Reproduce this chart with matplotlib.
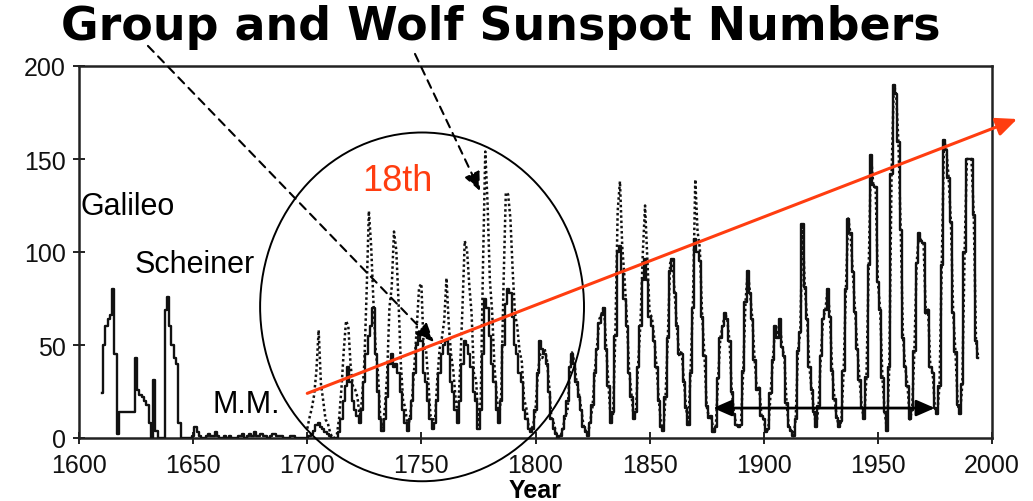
import matplotlib
matplotlib.use("Agg")
import matplotlib.pyplot as plt
from matplotlib.patches import Ellipse
import numpy as np

# ---------------- data ----------------
group_start = 1610
group_early = [
    # 1610-1659
    24, 50, 60, 64, 66, 80, 45, 2, 14, 14,
    14, 14, 14, 14, 14, 43, 26, 23, 22, 20,
    18, 8, 0, 31, 4, 0, 0, 0, 69, 76,
    60, 50, 43, 40, 8, 0, 0, 0, 0, 0,
    1, 6, 3, 1, 0, 0, 1, 2, 1, 1,
    # 1660-1699
    3, 1, 0, 0, 1, 0, 1, 0, 0, 0,
    1, 1, 2, 0, 1, 2, 1, 3, 1, 1,
    2, 1, 1, 0, 1, 2, 2, 1, 1, 1,
    0, 0, 0, 1, 1, 0, 0, 0, 0, 0,
    # 1700-1749
    0, 1, 2, 4, 7, 8, 6, 5, 3, 2,
    1, 0, 0, 0, 3, 10, 20, 28, 38, 30,
    20, 15, 12, 8, 15, 30, 45, 55, 60, 70,
    45, 25, 10, 4, 10, 22, 40, 45, 38, 40,
    35, 25, 15, 8, 4, 10, 20, 35, 50, 55,
    # 1750-1799
    52, 35, 30, 20, 10, 5, 8, 20, 35, 45,
    50, 52, 45, 30, 25, 15, 8, 20, 40, 52,
    50, 45, 38, 25, 20, 5, 15, 45, 75, 70,
    55, 40, 30, 15, 8, 20, 50, 72, 80, 78,
    65, 50, 45, 35, 30, 15, 10, 5, 3, 5,
    # 1800-1849
    15, 35, 52, 48, 45, 40, 25, 10, 5, 2,
    0, 1, 5, 12, 20, 38, 45, 40, 30, 22,
    15, 6, 3, 1, 8, 18, 35, 48, 62, 66,
    70, 48, 28, 8, 14, 55, 100, 103, 90, 75,
    60, 35, 22, 10, 14, 38, 60, 85, 96, 85,
    # 1850-1874
    65, 60, 52, 38, 20, 6, 4, 22, 54, 90,
    96, 78, 60, 45, 45, 30, 16, 7, 35, 70,
    107, 100, 95, 65, 44,
]

wolf_start = 1700
wolf = [
    # 1700-1749
    5, 11, 16, 23, 36, 58, 29, 20, 10, 8,
    3, 0, 0, 2, 11, 27, 47, 63, 60, 39,
    28, 26, 22, 11, 21, 40, 78, 122, 103, 73,
    47, 35, 11, 5, 16, 34, 70, 81, 111, 101,
    73, 40, 20, 16, 5, 11, 22, 40, 60, 81,
    # 1750-1799
    83, 48, 48, 31, 12, 10, 10, 32, 48, 54,
    63, 86, 61, 45, 36, 21, 11, 38, 70, 106,
    101, 82, 67, 35, 31, 7, 20, 93, 154, 126,
    85, 68, 39, 23, 10, 24, 83, 132, 131, 118,
    90, 67, 60, 47, 41, 21, 16, 6, 4, 7,
    # 1800-1849
    15, 34, 45, 43, 48, 42, 28, 10, 8, 3,
    0, 1, 5, 12, 14, 35, 46, 41, 30, 24,
    16, 7, 4, 2, 9, 17, 36, 50, 64, 67,
    71, 48, 28, 9, 13, 57, 122, 138, 103, 86,
    65, 37, 24, 11, 15, 40, 62, 99, 125, 96,
    # 1850-1899
    67, 65, 54, 39, 21, 7, 4, 23, 55, 94,
    96, 77, 59, 44, 47, 31, 16, 7, 38, 74,
    139, 111, 102, 66, 45, 17, 11, 12, 3, 6,
    32, 54, 60, 67, 64, 52, 25, 13, 7, 6,
    7, 36, 73, 90, 78, 64, 42, 26, 27, 12,
    # 1900-1949
    10, 3, 5, 24, 42, 60, 54, 64, 49, 44,
    19, 6, 4, 1, 10, 47, 57, 115, 81, 64,
    38, 26, 14, 6, 17, 44, 64, 69, 80, 65,
    36, 21, 11, 6, 9, 36, 80, 118, 110, 89,
    68, 48, 31, 16, 10, 33, 93, 152, 136, 135,
    # 1950-1994
    84, 69, 32, 14, 4, 38, 142, 190, 185, 159,
    112, 54, 38, 28, 10, 15, 47, 94, 110, 106,
    105, 67, 69, 38, 35, 16, 13, 28, 93, 160,
    155, 140, 116, 67, 46, 18, 13, 29, 100, 150,
    150, 150, 120, 52, 43,
]

# after 1875 the group numbers follow the Wolf curve in the picture
group = group_early + wolf[1875 - wolf_start:]
group_years = np.arange(group_start, group_start + len(group))
wolf_years = np.arange(wolf_start, wolf_start + len(wolf))

x_ticks = [1600, 1650, 1700, 1750, 1800, 1850, 1900, 1950, 2000]
y_ticks = [0, 50, 100, 150, 200]

title = "Group and Wolf Sunspot Numbers"
x_label = "Year"
notes = [("Galileo", 1600.5, 124.7, "black", 22),
         ("Scheiner", 1624.5, 93.5, "black", 22),
         ("M.M.", 1658.7, 18.3, "black", 22),
         ("18th", 1724.0, 138.2, "#ff3d10", 26)]

RED = "#ff3d10"

# ---------------- figure ----------------
plt.rcParams['font.family'] = ['Liberation Sans', 'DejaVu Sans']
fig = plt.figure(figsize=(10.33, 5.02), dpi=100)
ax = fig.add_axes([79 / 1033, 1 - 439 / 502, (992 - 79) / 1033, (439 - 67) / 502])

ax.plot(group_years, group, color="#111111", lw=1.7, drawstyle="steps-mid", zorder=3)
ax.plot(wolf_years, wolf, color="#111111", lw=1.8, linestyle=(0, (1, 1.1)), zorder=4)

ax.set_xlim(1600, 2000)
ax.set_ylim(0, 200)
ax.set_xticks(x_ticks)
ax.set_yticks(y_ticks)
ax.tick_params(axis="both", direction="inout", length=9, width=1.3, labelsize=18, colors="#111111")
ax.tick_params(axis="y", pad=5)
ax.tick_params(axis="x", pad=6)
for s in ax.spines.values():
    s.set_linewidth(1.8)
    s.set_color("#222222")

ax.set_xlabel(x_label, fontsize=18, fontweight="bold", labelpad=1)
fig.text(501 / 1033, 1 - 27 / 502, title, fontsize=33, fontweight="bold",
         ha="center", va="center", family=["DejaVu Sans"])

for txt, x, y, c, fs in notes:
    ax.text(x, y, txt, fontsize=fs, color=c, ha="left", va="center", zorder=6)

# circle around the 18th century
ell = Ellipse((1750.3, 70.5), 141.9, 187.5, fill=False, lw=1.4, color="black",
              clip_on=False, zorder=5)
ax.add_patch(ell)

# red trend arrow
ax.annotate("", xy=(2011, 171.5), xytext=(1700, 24), annotation_clip=False,
            arrowprops=dict(arrowstyle="-|>,head_length=0.9,head_width=0.4",
                            color=RED, lw=2.2, mutation_scale=14, shrinkA=0, shrinkB=0),
            zorder=7)

# dashed arrows from the title
for (x0, y0), (x1, y1) in [((1630.2, 210.8), (1755.5, 51.6)),
                           ((1747.2, 206.5), (1775.7, 132.8))]:
    ax.annotate("", xy=(x1, y1), xytext=(x0, y0), annotation_clip=False,
                arrowprops=dict(arrowstyle="-|>,head_length=0.8,head_width=0.35",
                                color="black", lw=1.5, linestyle=(0, (4, 3)),
                                mutation_scale=14, shrinkA=0, shrinkB=0),
                zorder=7)

# double arrow spanning a century
ax.annotate("", xy=(1975.0, 16.1), xytext=(1877.8, 16.1), annotation_clip=False,
            arrowprops=dict(arrowstyle="<|-|>,head_length=0.8,head_width=0.35",
                            color="black", lw=2.0, mutation_scale=14, shrinkA=0, shrinkB=0),
            zorder=7)

fig.savefig("out.png", dpi=100)
